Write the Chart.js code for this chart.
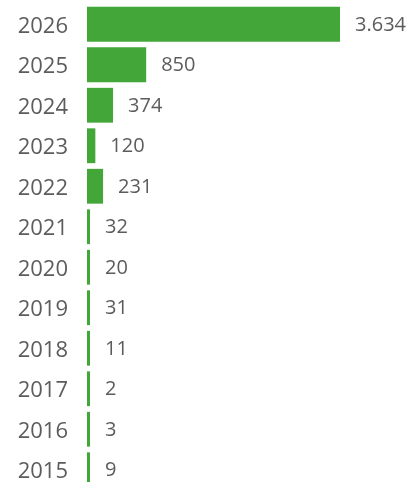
<!DOCTYPE html>
<html lang="en">
<head>
  <meta charset="UTF-8">
  <title>Per year</title>
  <style>
    html, body { margin: 0; padding: 0; background: #fff; overflow: hidden; }
    #chart { display: block; }
  </style>
</head>
<body>
  <canvas id="chart" width="410" height="490"></canvas>

  <script src="https://cdn.jsdelivr.net/npm/chart.js"></script>
  <script>
    const years  = ["2026", "2025", "2024", "2023", "2022", "2021", "2020", "2019", "2018", "2017", "2016", "2015"];
    const counts = [3634, 850, 374, 120, 231, 32, 20, 31, 11, 2, 3, 9];

    const barColor  = "#42a738";
    const textColor = "#5c5c5c";

    // German style thousands separator, e.g. 3.634
    function fmt(n) {
      return String(n).replace(/\B(?=(\d{3})+(?!\d))/g, ".");
    }

    // draw the value right of each bar
    const valueLabels = {
      id: "valueLabels",
      afterDatasetsDraw(chart) {
        const ctx = chart.ctx;
        const meta = chart.getDatasetMeta(0);
        ctx.save();
        ctx.font = "20px 'Open Sans', sans-serif";
        ctx.fillStyle = textColor;
        ctx.textAlign = "left";
        ctx.textBaseline = "middle";
        meta.data.forEach((bar, i) => {
          ctx.fillText(fmt(counts[i]), bar.x + 15, bar.y + 1);
        });
        ctx.restore();
      }
    };

    new Chart(document.getElementById("chart"), {
      type: "bar",
      data: {
        labels: years,
        datasets: [{
          data: counts,
          backgroundColor: barColor,
          borderWidth: 0,
          barPercentage: 0.86,
          categoryPercentage: 1,
          minBarLength: 3
        }]
      },
      options: {
        indexAxis: "y",
        responsive: false,
        animation: false,
        layout: { padding: { top: 4, right: 70, bottom: 0, left: 0 } },
        plugins: {
          legend: { display: false },
          tooltip: { enabled: false }
        },
        scales: {
          x: {
            display: false,
            min: 0,
            max: 3634
          },
          y: {
            grid: { display: false, drawTicks: false },
            border: { display: false },
            ticks: {
              color: textColor,
              padding: 19,
              labelOffset: 2,
              font: { family: "'Open Sans', sans-serif", size: 22 }
            },
            afterFit(scale) {
              scale.width = 87;
              scale.paddingTop = 0;
              scale.paddingBottom = 0;
            }
          }
        }
      },
      plugins: [valueLabels]
    });
  </script>
</body>
</html>
